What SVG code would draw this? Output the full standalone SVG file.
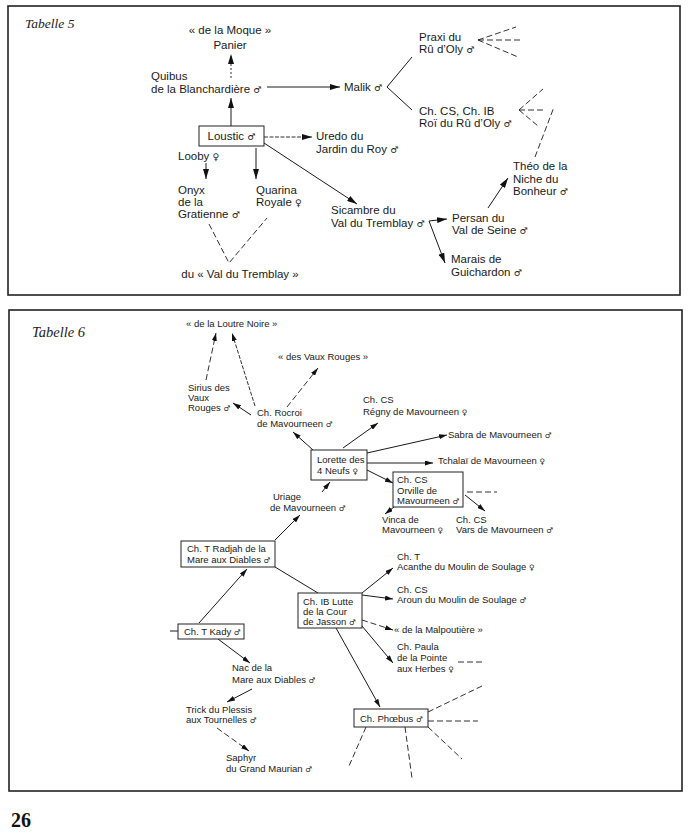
<svg xmlns="http://www.w3.org/2000/svg" width="689" height="835" viewBox="0 0 689 835">
<defs>
<style>
.t5{font-family:"Liberation Sans","DejaVu Sans",sans-serif;font-size:11.5px;fill:#1a1a1a}
.t6{font-family:"Liberation Sans","DejaVu Sans",sans-serif;font-size:9.5px;fill:#1a1a1a}
.ttl{font-family:"Liberation Serif","DejaVu Serif",serif;font-style:italic;fill:#222}
.pg{font-family:"Liberation Serif","DejaVu Serif",serif;font-weight:bold;font-size:20px;fill:#111}
.sym{font-family:"DejaVu Sans",sans-serif;font-size:0.8em}
.frame{fill:none;stroke:#222;stroke-width:1.6}
.box{fill:#fff;stroke:#222;stroke-width:1}
.ln{fill:none;stroke:#1a1a1a;stroke-width:1}
.dash{fill:none;stroke:#1a1a1a;stroke-width:0.9;stroke-dasharray:6 3}
.dot{fill:none;stroke:#1a1a1a;stroke-width:0.9;stroke-dasharray:2 2}
.fine{fill:none;stroke:#1a1a1a;stroke-width:0.9;stroke-dasharray:4 1.5}
</style>
<marker id="a" viewBox="0 0 10 6" refX="10" refY="3" markerWidth="10" markerHeight="6" orient="auto" markerUnits="userSpaceOnUse"><path d="M0,0 L10,3 L0,6 Z" fill="#111"/></marker>
<marker id="b" viewBox="0 0 8 5" refX="8" refY="2.5" markerWidth="8" markerHeight="5" orient="auto" markerUnits="userSpaceOnUse"><path d="M0,0 L8,2.5 L0,5 Z" fill="#111"/></marker>
</defs>
<rect width="689" height="835" fill="#fff"/>

<!-- Tabelle 5 -->
<rect class="frame" x="8" y="6" width="672" height="289"/>
<text class="ttl" x="25" y="28" font-size="13.5">Tabelle 5</text>

<g id="connectors5">
<path class="dot" d="M231,78 L231,54" marker-end="url(#a)"/>
<path class="ln" d="M231,126 L231,98" marker-end="url(#a)"/>
<path class="ln" d="M267,87 L340,87" marker-end="url(#a)"/>
<path class="ln" d="M412,57 L387,87 L412,110"/>
<path class="dash" d="M478,40 L516,27 M478,40 L520,40 M478,40 L518,57"/>
<path class="dash" d="M519,110 L543,89 M519,110 L543,110 M519,110 L538,126"/>
<path class="dash" d="M535,157 L554,107"/>
<path class="fine" d="M264,137 L312,137" marker-end="url(#a)"/>
<path class="ln" d="M206,163 L206,179" marker-end="url(#a)"/>
<path class="ln" d="M256,148 L256,179" marker-end="url(#a)"/>
<path class="dash" d="M209,224 L229,263 L267,218"/>
<path class="ln" d="M264,143 L357,204" marker-end="url(#a)"/>
<path class="ln" d="M429,221 L447,219" marker-end="url(#a)"/>
<path class="ln" d="M429,221 L445,263" marker-end="url(#a)"/>
<path class="ln" d="M488,208 L508,178" marker-end="url(#a)"/>
</g>

<g id="moque"><text class="t5" text-anchor="middle"><tspan x="230" y="34">« de la Moque »</tspan><tspan x="230" y="49">Panier</tspan></text></g>
<g id="quibus"><text class="t5"><tspan x="151" y="80">Quibus</tspan><tspan x="151" y="93">de la Blanchardière <tspan class="sym">♂</tspan></tspan></text></g>
<g id="malik"><text class="t5" x="344" y="91">Malik <tspan class="sym">♂</tspan></text></g>
<g id="praxi"><text class="t5"><tspan x="419" y="41">Praxi du</tspan><tspan x="419" y="53">Rû d’Oly <tspan class="sym">♂</tspan></tspan></text></g>
<g id="roi"><text class="t5"><tspan x="419" y="115">Ch. CS, Ch. IB</tspan><tspan x="419" y="127">Roï du Rû d’Oly <tspan class="sym">♂</tspan></tspan></text></g>
<g id="loustic"><rect class="box" x="199" y="126" width="65" height="20"/><text class="t5" x="231.5" y="140" text-anchor="middle">Loustic <tspan class="sym">♂</tspan></text></g>
<g id="uredo"><text class="t5"><tspan x="316" y="140">Uredo du</tspan><tspan x="316" y="153">Jardin du Roy <tspan class="sym">♂</tspan></tspan></text></g>
<g id="looby"><text class="t5" x="178" y="160">Looby <tspan class="sym">♀</tspan></text></g>
<g id="onyx"><text class="t5"><tspan x="178" y="194">Onyx</tspan><tspan x="178" y="206">de la</tspan><tspan x="178" y="218">Gratienne <tspan class="sym">♂</tspan></tspan></text></g>
<g id="quarina"><text class="t5"><tspan x="256" y="194">Quarina</tspan><tspan x="256" y="206">Royale <tspan class="sym">♀</tspan></tspan></text></g>
<g id="valtremblay"><text class="t5" x="240" y="278" text-anchor="middle">du « Val du Tremblay »</text></g>
<g id="sicambre"><text class="t5"><tspan x="331" y="214">Sicambre du</tspan><tspan x="331" y="227">Val du Tremblay <tspan class="sym">♂</tspan></tspan></text></g>
<g id="persan"><text class="t5"><tspan x="452" y="222">Persan du</tspan><tspan x="452" y="234">Val de Seine <tspan class="sym">♂</tspan></tspan></text></g>
<g id="marais"><text class="t5"><tspan x="451" y="263">Marais de</tspan><tspan x="451" y="276">Guichardon <tspan class="sym">♂</tspan></tspan></text></g>
<g id="theo"><text class="t5"><tspan x="513" y="170">Théo de la</tspan><tspan x="513" y="183">Niche du</tspan><tspan x="513" y="195">Bonheur <tspan class="sym">♂</tspan></tspan></text></g>

<!-- Tabelle 6 -->
<rect class="frame" x="9" y="310" width="673" height="481"/>
<text class="ttl" x="32" y="337" font-size="14.5">Tabelle 6</text>

<g id="connectors6">
<path class="dash" d="M206,380 L216,333" marker-end="url(#b)"/>
<path class="fine" d="M255,406 L232,333" marker-end="url(#b)"/>
<path class="ln" d="M251,415 L233,403" marker-end="url(#b)"/>
<path class="dash" d="M287,407 L318,368" marker-end="url(#b)"/>
<path class="ln" d="M313,450 L293,432" marker-end="url(#b)"/>
<path class="ln" d="M322,492 L330,482" marker-end="url(#b)"/>
<path class="ln" d="M275,540 L300,515" marker-end="url(#b)"/>
<path class="ln" d="M343,448 L378,423" marker-end="url(#b)"/>
<path class="ln" d="M367,453 L447,435" marker-end="url(#b)"/>
<path class="ln" d="M367,463 L433,463" marker-end="url(#b)"/>
<path class="ln" d="M367,470 L393,483" marker-end="url(#b)"/>
<path class="dash" d="M467,492 L497,492"/>
<path class="ln" d="M394,507 L385,514" marker-end="url(#b)"/>
<path class="ln" d="M465,495 L485,511" marker-end="url(#b)"/>
<path class="ln" d="M275,567 L318,593"/>
<path class="ln" d="M170,631 L178,631"/>
<path class="ln" d="M199,623 L247,569" marker-end="url(#b)"/>
<path class="ln" d="M218,639 L250,663" marker-end="url(#b)"/>
<path class="ln" d="M252,689 L227,702" marker-end="url(#b)"/>
<path class="dash" d="M217,728 L249,751" marker-end="url(#b)"/>
<path class="ln" d="M362,593 L393,568" marker-end="url(#b)"/>
<path class="ln" d="M362,595 L393,599" marker-end="url(#b)"/>
<path class="dash" d="M362,620 L393,630" marker-end="url(#b)"/>
<path class="ln" d="M362,626 L393,663" marker-end="url(#b)"/>
<path class="dash" d="M458,662 L482,662"/>
<path class="ln" d="M336,628 L380,707" marker-end="url(#b)"/>
<path class="dash" d="M428,712 L482,686 M428,721 L478,721 M428,727 L462,759 M405,727 L412,778 M366,727 L349,766"/>
</g>

<g id="loutre"><text class="t6" x="186" y="327">« de la Loutre Noire »</text></g>
<g id="desvaux"><text class="t6" x="278" y="360">« des Vaux Rouges »</text></g>
<g id="sirius"><text class="t6"><tspan x="188" y="391">Sirius des</tspan><tspan x="188" y="401">Vaux</tspan><tspan x="188" y="411">Rouges <tspan class="sym">♂</tspan></tspan></text></g>
<g id="rocroi"><text class="t6"><tspan x="257" y="416">Ch. Rocroi</tspan><tspan x="257" y="427">de Mavourneen <tspan class="sym">♂</tspan></tspan></text></g>
<g id="regny"><text class="t6"><tspan x="363" y="403">Ch. CS</tspan><tspan x="363" y="415">Régny de Mavourneen <tspan class="sym">♀</tspan></tspan></text></g>
<g id="sabra"><text class="t6" x="448" y="438">Sabra de Mavourneen <tspan class="sym">♂</tspan></text></g>
<g id="tchalai"><text class="t6" x="438" y="464">Tchalaï de Mavourneen <tspan class="sym">♀</tspan></text></g>
<g id="lorette"><rect class="box" x="311" y="450" width="56" height="30"/><text class="t6"><tspan x="317" y="463">Lorette des</tspan><tspan x="317" y="474">4 Neufs <tspan class="sym">♀</tspan></tspan></text></g>
<g id="uriage"><text class="t6"><tspan x="273" y="500">Uriage</tspan><tspan x="270" y="511">de Mavourneen <tspan class="sym">♂</tspan></tspan></text></g>
<g id="orville"><rect class="box" x="393" y="472" width="70" height="35"/><text class="t6"><tspan x="397" y="483">Ch. CS</tspan><tspan x="397" y="493.5">Orville de</tspan><tspan x="397" y="504">Mavourneen <tspan class="sym">♂</tspan></tspan></text></g>
<g id="vinca"><text class="t6"><tspan x="382" y="523">Vinca de</tspan><tspan x="382" y="533">Mavourneen <tspan class="sym">♀</tspan></tspan></text></g>
<g id="vars"><text class="t6"><tspan x="456" y="523">Ch. CS</tspan><tspan x="456" y="533">Vars de Mavourneen <tspan class="sym">♂</tspan></tspan></text></g>
<g id="radjah"><rect class="box" x="181" y="541" width="94" height="26"/><text class="t6"><tspan x="187" y="552">Ch. T Radjah de la</tspan><tspan x="187" y="562.5">Mare aux Diables <tspan class="sym">♂</tspan></tspan></text></g>
<g id="kady"><rect class="box" x="178" y="624" width="66" height="15"/><text class="t6" x="184" y="634.5">Ch. T Kady <tspan class="sym">♂</tspan></text></g>
<g id="lutte"><rect class="box" x="298" y="593" width="64" height="35"/><text class="t6"><tspan x="303" y="605">Ch. IB Lutte</tspan><tspan x="303" y="615">de la Cour</tspan><tspan x="303" y="625">de Jasson <tspan class="sym">♂</tspan></tspan></text></g>
<g id="nac"><text class="t6"><tspan x="232" y="671">Nac de la</tspan><tspan x="232" y="683">Mare aux Diables <tspan class="sym">♂</tspan></tspan></text></g>
<g id="trick"><text class="t6"><tspan x="186" y="713">Trick du Plessis</tspan><tspan x="186" y="723">aux Tournelles <tspan class="sym">♂</tspan></tspan></text></g>
<g id="saphyr"><text class="t6"><tspan x="226" y="761">Saphyr</tspan><tspan x="226" y="772">du Grand Maurian <tspan class="sym">♂</tspan></tspan></text></g>
<g id="acanthe"><text class="t6"><tspan x="397" y="560">Ch. T</tspan><tspan x="397" y="570">Acanthe du Moulin de Soulage <tspan class="sym">♀</tspan></tspan></text></g>
<g id="aroun"><text class="t6"><tspan x="397" y="593">Ch. CS</tspan><tspan x="397" y="603">Aroun du Moulin de Soulage <tspan class="sym">♂</tspan></tspan></text></g>
<g id="malpoutiere"><text class="t6" x="394" y="633">« de la Malpoutière »</text></g>
<g id="paula"><text class="t6"><tspan x="397" y="650">Ch. Paula</tspan><tspan x="397" y="661">de la Pointe</tspan><tspan x="397" y="672">aux Herbes <tspan class="sym">♀</tspan></tspan></text></g>
<g id="phoebus"><rect class="box" x="354" y="709" width="74" height="18"/><text class="t6" x="360" y="722">Ch. Phœbus <tspan class="sym">♂</tspan></text></g>

<text class="pg" x="11" y="827">26</text>
</svg>
